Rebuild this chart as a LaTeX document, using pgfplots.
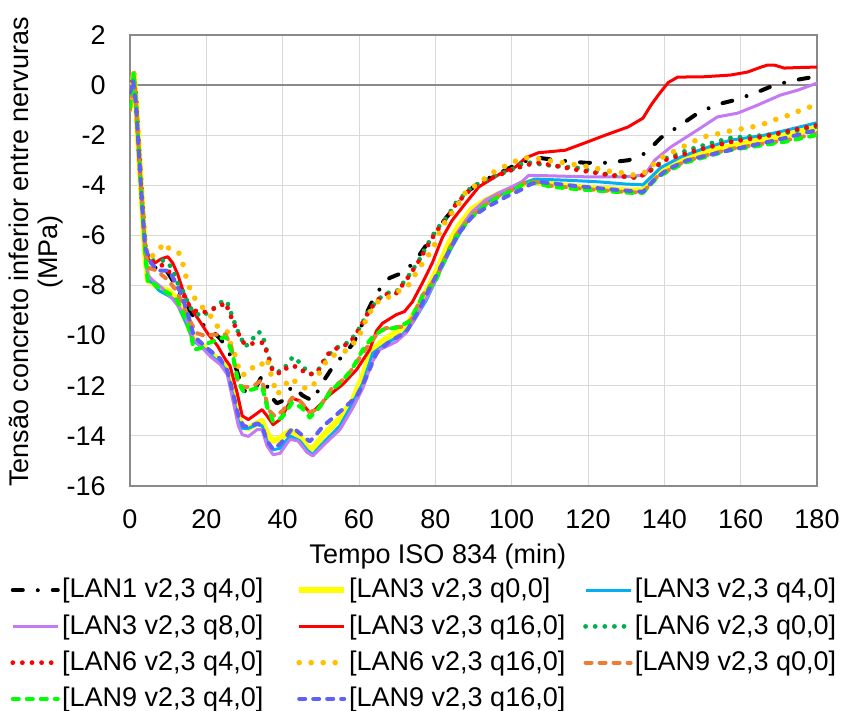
\documentclass[border=0pt]{standalone}
\usepackage{fontspec}
\setmainfont{Liberation Sans}
\usepackage{pgfplots}
\pgfplotsset{compat=1.18}
\definecolor{gridc}{HTML}{D9D9D9}
\definecolor{framec}{HTML}{8A8A8A}
\definecolor{cyellow}{HTML}{FFFF00}
\definecolor{cblue}{HTML}{00B0F0}
\definecolor{cpurple}{HTML}{C47AF2}
\definecolor{cred}{HTML}{FF0000}
\definecolor{cgreen}{HTML}{00B050}
\definecolor{cgold}{HTML}{FFC000}
\definecolor{corange}{HTML}{ED7D31}
\definecolor{clime}{HTML}{00FF00}
\definecolor{cviolet}{HTML}{6060F8}
\newcommand\myfont{\fontsize{13.5}{14.5}\selectfont}
\begin{document}
\myfont
\begin{tikzpicture}
\useasboundingbox (-65pt,-112.5pt) rectangle (357.5pt,243pt);
\begin{axis}[
  scale only axis, width=343.5pt, height=225.5pt,
  xmin=0, xmax=180, ymin=-16, ymax=2,
  xtick={0,20,...,180}, ytick={-16,-14,...,2},
  grid=major, major grid style={draw=gridc, line width=0.5pt},
  axis line style={draw=framec, line width=1pt},
  major tick length=0pt,
  extra y ticks={0}, extra y tick labels={},
  extra y tick style={grid=major, major grid style={draw=framec, line width=1pt}},
  /pgf/number format/assume math mode=true,
  tick label style={font=\myfont},
  yticklabel style={xshift=-7.5pt},
  xticklabel style={yshift=-7.2pt},
  xlabel={Tempo ISO 834 (min)},
  xlabel style={font=\myfont, at={(axis description cs:0.448,-0.157)}, anchor=center},
  ylabel={Tensão concreto inferior entre nervuras\\(MPa)},
  ylabel style={font=\myfont, align=center, at={(axis description cs:-0.137,0.519)}, anchor=center},
  legend columns=3,
  legend cell align=left,
  legend style={font=\myfont, at={(axis description cs:0,0)}, anchor=north west, xshift=-60pt, yshift=-46pt,
    draw=none, fill=none, inner sep=0pt, row sep=6.3pt, nodes={inner sep=0pt},
    /tikz/every odd column/.append style={column sep=1pt}},
  legend image code/.code={\draw[#1] (0pt,0pt) -- (22.5pt,0pt);},
  every axis plot/.append style={line join=round},
]
% LAN1 v2,3 q4,0
\addplot[black, line width=2pt, line cap=round, dash pattern=on 5pt off 7.5pt on 0pt off 7.5pt] coordinates {
(0,-0.7)(1,0.4)(1.6,-0.8)(2.3,-2.6)(3.1,-4.6)(4,-6.6)(5,-7.1)(6.5,-7.3)(8,-7.2)(10,-7.5)(12,-8.0)(14,-8.6)(16,-9.1)(17.5,-9.4)(19.5,-9.6)(21.5,-9.8)(23.5,-10.1)(25,-10.4)(26,-10.7)(27.6,-11.2)(29.4,-12.1)(30.7,-12.3)(32.5,-12.2)(34.6,-11.6)(35.5,-11.8)(36.7,-12.4)(38.5,-12.7)(40,-12.6)(42.5,-12.0)(45.3,-12.4)(47.9,-12.6)(50.3,-11.9)(52.9,-11.3)(55.7,-10.8)(58,-10.4)(60,-9.9)(61.5,-9.25)(63.6,-8.6)(66,-8.0)(68,-7.7)(72,-7.45)(75.3,-6.9)(78.9,-6.1)(82.8,-5.3)(85.5,-4.8)(88.3,-4.26)(92,-3.85)(97.4,-3.47)(102,-3.1)(107,-2.9)(112,-3.0)(119.3,-3.1)(124.8,-3.1)(130.5,-3.0)(132.6,-2.9)(135.2,-2.7)(139.1,-2.1)(143.5,-1.67)(148,-1.2)(153.2,-0.8)(158.4,-0.6)(163.8,-0.32)(168.8,0)(174.3,0.2)(180,0.35)};
\addlegendentry{\makebox[117pt][l]{[LAN1 v2,3 q4,0]}}
% LAN3 v2,3 q0,0
\addplot[cyellow, line width=3pt] coordinates {
(0,-0.9)(1,0.4)(1.6,-0.8)(2.3,-2.6)(3.1,-4.6)(4,-6.8)(4.7,-7.8)(6,-7.9)(7.6,-8.1)(10,-8.2)(12,-8.5)(13.5,-9.0)(15,-9.5)(16.5,-10.1)(19,-10.4)(21,-10.7)(23.5,-11.0)(25.5,-11.3)(27,-12.3)(28.4,-13.3)(29.5,-13.6)(31,-13.7)(33.3,-13.5)(34.6,-13.4)(35.9,-13.9)(37.5,-14.2)(39.3,-14.1)(41.9,-13.8)(44.5,-14.0)(46.6,-14.5)(47.9,-14.5)(50.5,-14.0)(55,-13.3)(58.3,-12.6)(61,-11.6)(63,-10.7)(65.4,-10.3)(69.8,-9.85)(72.4,-9.6)(75,-9.0)(78.4,-8.0)(81,-7.2)(83.6,-6.3)(86.2,-5.6)(89.6,-4.95)(93.2,-4.6)(96.6,-4.35)(100,-4.15)(103,-3.95)(105.5,-3.85)(110,-3.95)(120,-4.1)(130,-4.2)(134.4,-4.2)(137.5,-3.6)(141,-3.3)(145,-3.0)(150,-2.7)(157,-2.45)(165,-2.2)(172,-2.0)(180,-1.7)};
\addlegendentry{\makebox[117pt][l]{[LAN3 v2,3 q0,0]}}
% LAN3 v2,3 q4,0
\addplot[cblue, line width=1.5pt] coordinates {
(0,-0.8)(1,0.4)(1.6,-0.8)(2.3,-2.6)(3.1,-4.6)(4,-6.8)(4.8,-7.8)(6,-7.9)(7.6,-8.2)(10,-8.4)(12,-8.6)(13.5,-9.1)(15,-9.6)(16.5,-10.2)(19.3,-10.5)(22,-10.9)(24,-11.1)(25.5,-11.5)(27,-12.4)(28.4,-13.4)(29.5,-13.7)(31,-13.7)(33.3,-13.55)(34.6,-13.6)(35.9,-14.2)(37.5,-14.55)(39.3,-14.5)(41.9,-14.0)(44.5,-14.2)(46.6,-14.6)(47.9,-14.74)(50.5,-14.3)(55,-13.6)(57.6,-12.9)(61,-11.9)(63.6,-10.7)(67.2,-10.3)(71.4,-9.95)(74,-9.5)(77.6,-8.6)(81,-7.5)(84.4,-6.45)(88,-5.5)(91.4,-4.9)(95.9,-4.46)(100,-4.18)(103.5,-3.9)(106,-3.75)(115,-3.8)(122.7,-3.86)(130,-3.95)(134.4,-3.98)(137,-3.6)(139,-3.3)(144.3,-2.87)(150,-2.55)(157.3,-2.2)(166.2,-2.0)(172,-1.8)(180,-1.5)};
\addlegendentry{[LAN3 v2,3 q4,0]}
% LAN3 v2,3 q8,0
\addplot[cpurple, line width=1.5pt] coordinates {
(0,-0.8)(1,0.4)(1.6,-0.8)(2.3,-2.6)(3.1,-4.6)(4,-6.7)(4.8,-7.6)(6,-7.8)(8.1,-8.05)(11.2,-8.55)(14.1,-9.1)(16.7,-10.16)(19,-10.5)(21.1,-10.84)(23.7,-11.16)(25.5,-11.55)(27.1,-12.67)(28.4,-13.6)(29.4,-13.95)(31,-14.02)(33.3,-13.75)(34.6,-13.75)(35.9,-14.4)(37.5,-14.75)(39.3,-14.7)(41.9,-14.14)(44,-14.2)(46.4,-14.66)(47.9,-14.8)(50.5,-14.4)(55,-13.75)(58.3,-12.9)(61,-12.1)(63.3,-11.1)(65.4,-10.56)(69.8,-10.24)(72.4,-9.88)(75,-9.24)(78.4,-8.29)(81,-7.5)(83.6,-6.57)(86.2,-5.78)(89.6,-5.06)(93.2,-4.58)(96.6,-4.3)(100,-4.06)(102.6,-3.86)(104.5,-3.6)(110,-3.62)(119.3,-3.66)(129.7,-3.66)(134.9,-3.59)(137.5,-2.99)(141.7,-2.47)(148.7,-1.79)(153.9,-1.27)(159.2,-1.12)(164.4,-0.8)(170.4,-0.4)(175,-0.2)(180,0.08)};
\addlegendentry{\makebox[117pt][l]{[LAN3 v2,3 q8,0]}}
% LAN3 v2,3 q16,0
\addplot[cred, line width=1.5pt] coordinates {
(0,-0.6)(1,0.4)(1.6,-0.8)(2.3,-2.6)(3.1,-4.6)(4,-6.6)(5,-7.0)(6.5,-7.1)(8,-6.95)(8.9,-6.9)(9.9,-6.85)(11.2,-7.1)(12.5,-7.55)(14.1,-8.3)(15.9,-8.9)(18,-9.36)(20.3,-9.9)(22.9,-10.4)(25,-10.95)(26.2,-11.2)(28.1,-12.3)(29.4,-13.2)(31,-13.35)(33.3,-13.1)(34.6,-12.95)(35.9,-13.2)(37.5,-13.55)(39.3,-13.35)(42.5,-12.5)(44.5,-12.6)(47.1,-13.07)(48.5,-12.95)(52.4,-12.35)(55.7,-11.95)(59.4,-11.35)(62.8,-10.56)(64.6,-9.8)(66.2,-9.5)(69.8,-9.16)(71.9,-9.04)(74,-8.65)(76.6,-7.9)(79.2,-7.1)(81.8,-6.1)(84.4,-5.4)(88,-4.7)(91.4,-4.06)(97.4,-3.5)(101,-3.27)(103.7,-2.9)(107,-2.7)(114,-2.6)(119.3,-2.3)(124.5,-2.0)(130.5,-1.67)(134.4,-1.32)(136.5,-0.8)(138.8,-0.32)(141,0.1)(143.5,0.32)(150,0.33)(157.3,0.4)(161.8,0.52)(165,0.7)(167,0.8)(168.8,0.8)(171.4,0.68)(175,0.7)(180,0.72)};
\addlegendentry{\makebox[117pt][l]{[LAN3 v2,3 q16,0]}}
% LAN6 v2,3 q0,0
\addplot[cgreen, line width=2.4pt, line cap=round, dash pattern=on 0pt off 4.8pt] coordinates {
(0,-0.6)(1,0.5)(1.6,-0.7)(2.3,-2.5)(3.1,-4.5)(4,-6.5)(5,-7.0)(6.8,-7.0)(8.5,-7.0)(9.9,-7.05)(11.5,-7.5)(12.5,-7.9)(13.8,-8.2)(14.6,-8.5)(16.4,-9.04)(19,-9.24)(21.1,-8.96)(22.9,-8.84)(24.5,-8.57)(25.7,-8.75)(27.1,-9.36)(28.4,-9.88)(30.2,-10.44)(32,-10.16)(33.6,-9.84)(34.7,-9.95)(35.9,-10.64)(37.5,-11.43)(39.8,-11.43)(42.7,-10.84)(44.5,-11.08)(47.1,-11.55)(49,-11.45)(51.6,-10.84)(54.2,-10.48)(57.6,-10.24)(60.2,-9.68)(62.3,-9.1)(64.6,-8.6)(67.2,-8.3)(69.8,-8.25)(73.2,-7.57)(75.8,-6.97)(77.6,-6.45)(80.2,-5.78)(83.1,-5.26)(85.4,-4.7)(89.6,-4.06)(94.8,-3.67)(99.8,-3.39)(103.5,-3.07)(108.9,-3.19)(117.5,-3.31)(126,-3.59)(133.1,-3.7)(136.5,-3.39)(140.9,-2.87)(148.7,-2.47)(157.3,-2.11)(166.2,-2.0)(172,-1.9)(180,-1.65)};
\addlegendentry{[LAN6 v2,3 q0,0]}
% LAN6 v2,3 q4,0
\addplot[cred, line width=2.4pt, line cap=round, dash pattern=on 0pt off 4.8pt] coordinates {
(0,-0.6)(1,0.5)(1.6,-0.7)(2.3,-2.5)(3.1,-4.5)(4,-6.5)(5,-7.0)(7,-7.1)(8.5,-7.2)(10.2,-7.45)(12,-7.9)(13.8,-8.3)(15.5,-8.8)(17,-9.0)(19,-9.1)(21,-8.95)(22.9,-8.9)(25,-8.68)(27.1,-9.48)(29.4,-10.24)(30.7,-10.36)(32.5,-10.3)(34.9,-10.28)(35.9,-10.68)(37.5,-11.47)(39.8,-11.5)(41.4,-11.23)(44,-11.23)(46.4,-11.55)(49,-11.5)(51.6,-10.76)(54.2,-10.5)(57.6,-10.3)(60.2,-9.7)(62.3,-9.1)(64.6,-8.6)(67.2,-8.35)(69.8,-8.3)(73.2,-7.6)(75.8,-7.0)(77.6,-6.5)(80.2,-5.85)(83.1,-5.3)(85.4,-4.75)(89.6,-4.1)(94.8,-3.7)(99.8,-3.4)(103.7,-3.19)(107,-3.1)(117.5,-3.39)(126,-3.6)(133.1,-3.7)(136.5,-3.4)(140,-3.0)(148.7,-2.59)(157.3,-2.27)(166.2,-2.05)(172,-1.85)(180,-1.6)};
\addlegendentry{\makebox[117pt][l]{[LAN6 v2,3 q4,0]}}
% LAN6 v2,3 q16,0
\addplot[cgold, line width=2.8pt, line cap=round, dash pattern=on 0pt off 6pt] coordinates {
(0,-0.5)(1,0.5)(1.6,-0.7)(2.3,-2.4)(3.1,-4.4)(4,-6.4)(5,-6.9)(7,-6.7)(8.9,-6.3)(10.7,-6.6)(12.8,-6.7)(13.8,-7.1)(14.6,-7.6)(15.4,-8.0)(16.4,-8.4)(18,-8.7)(19.8,-9.0)(21.6,-9.3)(23.2,-9.7)(25.5,-9.85)(26.3,-10.3)(27.6,-10.8)(28.9,-11.55)(30.7,-11.55)(32.8,-11.15)(34.2,-11.2)(35.9,-10.9)(37.2,-11.7)(38.5,-12.35)(40.1,-12.1)(41.9,-11.7)(44,-11.9)(46.4,-12.15)(48,-12.0)(50.5,-11.2)(52.9,-10.8)(55.5,-10.7)(57.6,-10.5)(60.2,-9.96)(62.3,-9.2)(63.6,-8.9)(65.4,-8.57)(68,-8.45)(70,-8.25)(72.7,-8.05)(75.8,-7.3)(77.6,-6.9)(79.2,-6.6)(81,-5.9)(82.8,-5.4)(84.9,-5.0)(86.7,-4.6)(88,-4.26)(90.6,-4.0)(93.2,-3.7)(95.3,-3.47)(100,-3.1)(103.2,-2.9)(106,-2.9)(109,-3.0)(112.3,-3.07)(117.5,-3.2)(120.6,-3.26)(123.5,-3.37)(126,-3.45)(129.2,-3.5)(132.3,-3.6)(135.2,-3.47)(137.5,-3.1)(139.6,-2.87)(142.2,-2.67)(144.8,-2.47)(147.4,-2.27)(150,-2.07)(152.6,-2.0)(155.8,-1.87)(158.4,-1.8)(161.2,-1.72)(164.4,-1.63)(167,-1.5)(170,-1.32)(172.7,-1.2)(175.3,-1.03)(178.2,-0.87)(180,-0.8)};
\addlegendentry{\makebox[117pt][l]{[LAN6 v2,3 q16,0]}}
% LAN9 v2,3 q0,0
\addplot[corange, line width=2pt, line cap=round, dash pattern=on 3pt off 4pt] coordinates {
(0,-1.0)(1,0.3)(1.6,-0.9)(2.3,-2.6)(3.1,-4.6)(4,-6.7)(5,-7.3)(7,-7.4)(8.5,-7.6)(9.9,-7.77)(12,-8.17)(14,-8.8)(16,-9.5)(17.5,-9.9)(19.5,-10.0)(21.9,-9.96)(25,-9.95)(26.5,-10.4)(28.1,-11.75)(29.7,-12.07)(32.5,-12.0)(34.6,-11.75)(36.2,-12.95)(38,-13.23)(40,-13.0)(42.5,-12.47)(44.5,-12.6)(47.1,-13.07)(49.5,-12.9)(52.9,-12.1)(55.5,-11.8)(57.6,-11.47)(61,-10.68)(64.6,-9.96)(67,-9.7)(71.4,-9.64)(73.7,-9.36)(76.6,-8.4)(80.2,-7.7)(82.8,-6.8)(85.4,-6.0)(88.8,-5.35)(92.2,-4.85)(96.6,-4.42)(100.5,-4.15)(103.7,-3.88)(106,-3.85)(110.4,-4.02)(119.3,-4.15)(131.3,-4.28)(134.4,-4.28)(138.3,-3.63)(145.3,-3.05)(150,-2.85)(157.3,-2.55)(166.2,-2.33)(172,-2.2)(180,-1.93)};
\addlegendentry{[LAN9 v2,3 q0,0]}
% LAN9 v2,3 q4,0
\addplot[clime, line width=2pt, line cap=round, dash pattern=on 3pt off 4pt] coordinates {
(0,-0.9)(1,0.5)(1.6,-0.8)(2.3,-2.6)(3.1,-4.6)(4,-6.8)(4.7,-7.9)(6,-7.9)(7.6,-8.1)(10,-8.3)(12,-8.5)(13.3,-8.9)(14.5,-9.3)(15.9,-9.9)(16.7,-10.56)(18.5,-10.5)(20.5,-10.3)(22.9,-10.16)(25,-10.04)(26.8,-10.68)(28.4,-11.87)(29.7,-12.23)(32,-12.15)(34.6,-12.03)(35.9,-12.83)(37.5,-13.43)(39.8,-13.27)(42.5,-12.67)(45,-12.87)(47.1,-13.27)(49.2,-12.95)(52.9,-12.15)(55.7,-11.8)(58.3,-11.3)(61,-10.56)(63.6,-10.04)(66.2,-9.76)(69.8,-9.68)(73.2,-9.44)(76.6,-8.45)(80.2,-7.77)(82.8,-6.85)(85.4,-6.06)(88.8,-5.38)(92.2,-4.9)(96.6,-4.46)(100.5,-4.18)(103.7,-3.9)(106,-3.9)(110.4,-4.06)(119.3,-4.18)(131.3,-4.3)(134.4,-4.3)(138.3,-3.66)(145.3,-3.1)(150,-2.9)(157.3,-2.59)(166.2,-2.39)(172,-2.25)(180,-1.99)};
\addlegendentry{\makebox[117pt][l]{[LAN9 v2,3 q4,0]}}
% LAN9 v2,3 q16,0
\addplot[cviolet, line width=2pt, line cap=round, dash pattern=on 3pt off 4pt] coordinates {
(0,-0.3)(0.8,0.2)(1.6,-0.8)(2.3,-2.6)(3.1,-4.6)(4,-6.5)(5.5,-7.1)(7.3,-7.4)(10.2,-7.4)(12,-7.9)(13.3,-8.3)(15.1,-9.1)(16.5,-9.9)(18,-10.2)(21,-10.6)(23.5,-10.9)(25.5,-11.4)(27,-12.3)(28.4,-13.2)(29.7,-13.6)(31,-13.65)(33.3,-13.5)(34.6,-13.6)(35.9,-14.2)(37.5,-14.54)(39.5,-14.3)(42.7,-13.67)(44.5,-13.9)(47.1,-14.22)(48.5,-14.0)(50.5,-13.63)(53,-13.3)(56,-12.9)(59.4,-12.43)(62,-11.63)(64.6,-10.68)(68,-10.24)(72.4,-9.84)(75.8,-8.96)(79.2,-7.9)(82.8,-6.85)(86.2,-5.9)(89.6,-5.26)(93.2,-4.9)(98.5,-4.46)(102.4,-4.18)(105,-3.95)(107,-3.86)(115,-4.0)(125,-4.15)(134.4,-4.26)(137.5,-3.75)(141,-3.35)(146,-3.0)(150,-2.85)(157.3,-2.59)(166.2,-2.3)(172,-2.1)(180,-1.79)};
\addlegendentry{\makebox[117pt][l]{[LAN9 v2,3 q16,0]}}
\end{axis}
\end{tikzpicture}
\end{document}
